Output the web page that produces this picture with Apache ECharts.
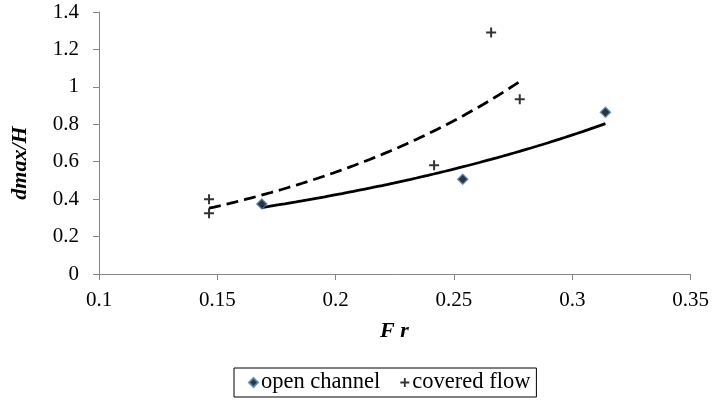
<!DOCTYPE html>
<html>
<head>
<meta charset="utf-8">
<title>dmax/H vs Fr</title>
<script src="https://cdn.jsdelivr.net/npm/echarts@6/dist/echarts.min.js"></script>
<style>
  html, body { margin: 0; padding: 0; background: #fff; }
  #chart { width: 712px; height: 400px; }
</style>
</head>
<body>
<div id="chart"></div>
<script>
// Measured points: Froude number vs. relative maximum scour depth
const openFr = [0.1688, 0.2537, 0.3140];
const openD = [0.374, 0.506, 0.864];
const coveredFr = [0.1465, 0.1465, 0.2416, 0.2657, 0.2778];
const coveredD = [0.399, 0.324, 0.581, 1.290, 0.934];

const xTicks = { min: 0.1, max: 0.35, step: 0.05 };
const yTicks = { min: 0, max: 1.4, step: 0.2 };

const FONT = '"Liberation Serif", "Times New Roman", serif';

// Least-squares exponential trend y = a*e^(b*x), fitted on ln(y)
function expTrend(xs, ys, n) {
  const ly = ys.map(Math.log);
  const mx = xs.reduce((s, v) => s + v, 0) / xs.length;
  const my = ly.reduce((s, v) => s + v, 0) / ly.length;
  let sxy = 0, sxx = 0;
  xs.forEach((x, i) => { sxy += (x - mx) * (ly[i] - my); sxx += (x - mx) * (x - mx); });
  const b = sxy / sxx;
  const lnA = my - b * mx;
  const x0 = Math.min(...xs), x1 = Math.max(...xs);
  const out = [];
  for (let i = 0; i <= n; i++) {
    const x = x0 + (x1 - x0) * i / n;
    out.push([x, Math.exp(lnA + b * x)]);
  }
  return out;
}

const zip = (a, b) => a.map((v, i) => [v, b[i]]);
const plusPath = 'path://M4,0H6V4H10V6H6V10H4V6H0V4H4Z';

const chart = echarts.init(document.getElementById('chart'), null, { renderer: 'canvas' });
chart.setOption({
  animation: false,
  backgroundColor: '#fff',
  textStyle: { fontFamily: FONT },
  grid: { left: 99, right: 21, top: 12, bottom: 126 },
  xAxis: {
    type: 'value',
    min: xTicks.min, max: xTicks.max, interval: xTicks.step,
    splitLine: { show: false },
    axisLine: { lineStyle: { color: '#868686', width: 1 } },
    axisTick: { show: true, length: 6, lineStyle: { color: '#868686' } },
    axisLabel: { color: '#000', fontSize: 21, fontFamily: FONT, margin: 16 }
  },
  yAxis: {
    type: 'value',
    min: yTicks.min, max: yTicks.max, interval: yTicks.step,
    splitLine: { show: false },
    axisLine: { show: true, lineStyle: { color: '#868686', width: 1 } },
    axisTick: { show: true, length: 6, lineStyle: { color: '#868686' } },
    axisLabel: { color: '#000', fontSize: 21, fontFamily: FONT, margin: 20 }
  },
  legend: {
    data: ['open channel', 'covered flow'],
    left: 234, top: 368,
    orient: 'horizontal',
    borderColor: '#000', borderWidth: 1,
    padding: [3, 6, 3, 14],
    itemWidth: 9, itemHeight: 9, itemGap: 20,
    textStyle: { fontSize: 22.5, fontFamily: FONT, color: '#000', padding: [0, 0, 0, -2] }
  },
  graphic: [
    {
      type: 'text', left: 380, top: 320,
      style: { text: 'F r', font: 'italic bold 22px ' + FONT, fill: '#000' }
    },
    {
      type: 'text', x: 20, y: 163, rotation: Math.PI / 2,
      style: { text: 'dmax/H', font: 'italic bold 22px ' + FONT, fill: '#000', align: 'center', verticalAlign: 'middle' }
    }
  ],
  series: [
    {
      name: 'open channel trend', type: 'line',
      data: expTrend(openFr, openD, 60),
      showSymbol: false, smooth: false, silent: true,
      lineStyle: { color: '#000', width: 2.8 }, z: 2
    },
    {
      name: 'covered flow trend', type: 'line',
      data: expTrend(coveredFr, coveredD, 60),
      showSymbol: false, smooth: false, silent: true,
      lineStyle: { color: '#000', width: 2.8, type: [12, 6] }, z: 2
    },
    {
      name: 'open channel', type: 'scatter',
      data: zip(openFr, openD),
      symbol: 'diamond', symbolSize: 10,
      itemStyle: { color: '#000', borderColor: '#4F81BD', borderWidth: 1.5 }, z: 3
    },
    {
      name: 'covered flow', type: 'scatter',
      data: zip(coveredFr, coveredD),
      symbol: plusPath, symbolSize: 10,
      itemStyle: { color: '#000' }, z: 3
    }
  ]
});
</script>
</body>
</html>
